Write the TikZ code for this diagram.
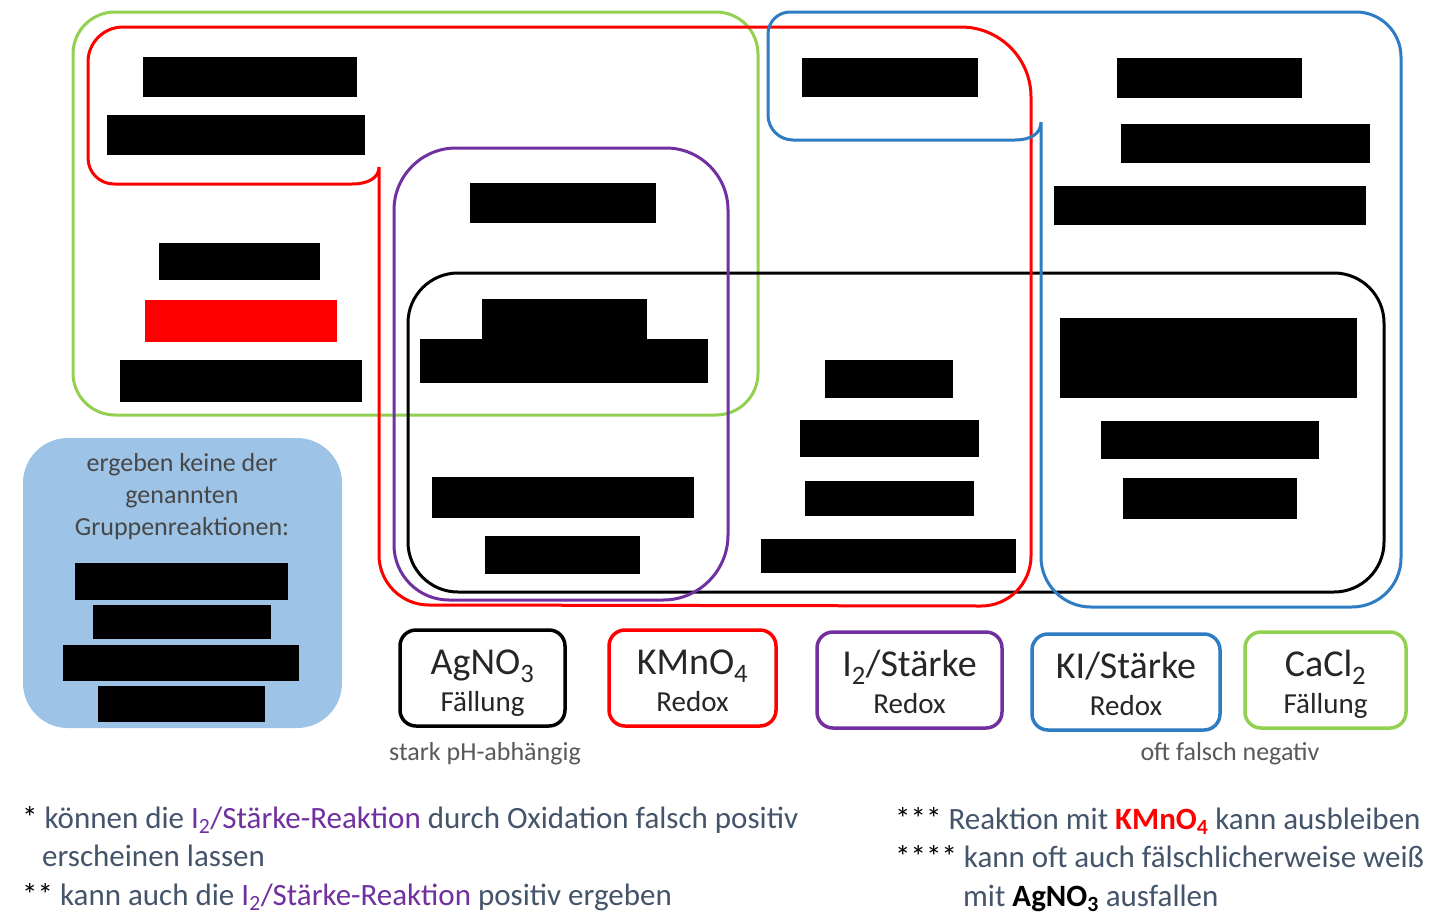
\documentclass[tikz,border=0pt]{standalone}
\usepackage{fontspec}
\setmainfont{Carlito}
\definecolor{cgreen}{HTML}{92D050}
\definecolor{cred}{HTML}{FF0000}
\definecolor{cpurp}{HTML}{7030A0}
\definecolor{cblue}{HTML}{2E7CC4}
\definecolor{clight}{HTML}{9DC3E6}
\definecolor{cnote}{HTML}{44546A}
\definecolor{cdark}{HTML}{262626}
\definecolor{cgray}{HTML}{595959}
\tikzset{
  redact/.style={fill=black},
  outl/.style={line width=3pt},
  legbox/.style={draw, line width=3.5pt, rounded corners=16pt, minimum width=#1, minimum height=96pt, inner sep=0pt},
  legtitle/.style={anchor=base, inner sep=0pt, text=cdark, font=\fontsize{38}{46}\selectfont},
  legsub/.style={anchor=base, inner sep=0pt, text=cdark, font=\fontsize{29}{35}\selectfont},
  smallnote/.style={anchor=base, inner sep=0pt, text=cgray, font=\fontsize{26}{32}\selectfont},
  fn/.style={anchor=base west, inner sep=0pt, text=cnote, font=\fontsize{31}{38}\selectfont},
}
\begin{document}
\begin{tikzpicture}[x=1pt,y=-1pt]
\useasboundingbox (0,0) rectangle (1440,921);
\fill[white] (0,0) rectangle (1440,921);

% light blue box
\fill[clight, rounded corners=45pt] (23,438) rectangle (342,728);
\node[smallnote, text=cdark!85] (lb1) at (182,471) {ergeben keine der};
\node[smallnote, text=cdark!85] (lb2) at (182,503) {genannten};
\node[smallnote, text=cdark!85] (lb3) at (182,535) {Gruppenreaktionen:};

% redactions
\fill[redact] (143,57) rectangle (357,97);
\fill[redact] (107,115) rectangle (365,155);
\fill[redact] (159,243) rectangle (320,280);
\fill[cred] (145,300) rectangle (337,342);
\fill[redact] (120,360) rectangle (362,402);
\fill[redact] (470,183) rectangle (656,223);
\fill[redact] (482,299) rectangle (647,341);
\fill[redact] (420,339) rectangle (708,383);
\fill[redact] (432,477) rectangle (694,518);
\fill[redact] (485,536) rectangle (640,574);
\fill[redact] (802,58) rectangle (978,97);
\fill[redact] (825,360) rectangle (953,398);
\fill[redact] (800,420) rectangle (979,457);
\fill[redact] (805,481) rectangle (974,516);
\fill[redact] (761,539) rectangle (1016,573);
\fill[redact] (1117,58) rectangle (1302,98);
\fill[redact] (1121,124) rectangle (1370,163);
\fill[redact] (1054,186) rectangle (1366,225);
\fill[redact] (1060,318) rectangle (1357,398);
\fill[redact] (1101,421) rectangle (1319,459);
\fill[redact] (1123,478) rectangle (1297,519);
\fill[redact] (75,563) rectangle (288,600);
\fill[redact] (93,605) rectangle (271,639);
\fill[redact] (63,645) rectangle (299,681);
\fill[redact] (98,686) rectangle (265,722);

% green group
\draw[outl, cgreen, rounded corners=42pt] (73,12) rectangle (758,415);
% black group
\draw[outl, black, rounded corners=50pt] (408,273) rectangle (1384,592);
% purple group
\draw[outl, cpurp] (394,210) arc[start angle=180, end angle=270, radius=62]
  -- (666,148) arc[start angle=270, end angle=360, radius=62]
  -- (728,535) arc[start angle=0, end angle=90, radius=65]
  -- (449,600) arc[start angle=90, end angle=180, radius=55] -- cycle;
% red group
\draw[outl, cred] (379,167) -- (379,555) arc[start angle=180, end angle=90, radius=50]
  -- (981,606) arc[start angle=90, end angle=0, radius=50]
  -- (1031,97) arc[start angle=0, end angle=-90, radius=70]
  -- (123,27) arc[start angle=270, end angle=180, radius=35]
  -- (88,158) arc[start angle=180, end angle=90, radius=26]
  -- (352,184) .. controls (368,184) and (379,178) .. (379,167);
% blue group
\draw[outl, cblue] (1041,122) -- (1041,557) arc[start angle=180, end angle=90, radius=50]
  -- (1352,607) arc[start angle=90, end angle=0, radius=49]
  -- (1401,57) arc[start angle=0, end angle=-90, radius=45]
  -- (790,12) arc[start angle=270, end angle=180, radius=22]
  -- (768,115) arc[start angle=180, end angle=90, radius=25]
  -- (1015,140) .. controls (1030,140) and (1041,134) .. (1041,122);

% legend
\node[legbox=165pt, draw=black] (ag) at (482.5,678) {};
\node[legbox=167pt, draw=cred] (km) at (692.5,678) {};
\node[legbox=185pt, draw=cpurp] (is) at (909.5,680) {};
\node[legbox=188pt, draw=cblue] (ki) at (1126,682) {};
\node[legbox=161pt, draw=cgreen] (ca) at (1325.5,680) {};

\node[legtitle] (agT) at ([yshift=4pt]ag.center) {AgNO\textsubscript{3}};
\node[legsub] (agS) at ([yshift=-33pt]ag.center) {Fällung};
\node[legtitle] (kmT) at ([yshift=4pt]km.center) {KMnO\textsubscript{4}};
\node[legsub] (kmS) at ([yshift=-33pt]km.center) {Redox};
\node[legtitle] (isT) at ([yshift=4pt]is.center) {I\textsubscript{2}/Stärke};
\node[legsub] (isS) at ([yshift=-33pt]is.center) {Redox};
\node[legtitle] (kiT) at ([yshift=4pt]ki.center) {KI/Stärke};
\node[legsub] (kiS) at ([yshift=-33pt]ki.center) {Redox};
\node[legtitle] (caT) at ([yshift=4pt]ca.center) {CaCl\textsubscript{2}};
\node[legsub] (caS) at ([yshift=-33pt]ca.center) {Fällung};

\node[smallnote] (n1) at (485,760) {stark pH-abhängig};
\node[smallnote] (n2) at (1230,760) {oft falsch negativ};

% footnotes
\node[fn] (f1) at (22,828) {\textcolor{black}{*} können die \textcolor{cpurp}{I\textsubscript{2}/Stärke-Reaktion} durch Oxidation falsch positiv};
\node[fn] (f2) at (42,866) {erscheinen lassen};
\node[fn] (f3) at (22,905) {\textcolor{black}{**} kann auch die \textcolor{cpurp}{I\textsubscript{2}/Stärke-Reaktion} positiv ergeben};
\node[fn] (f4) at (895,829) {\textcolor{black}{***} Reaktion mit \textcolor{cred}{\textbf{KMnO\textsubscript{4}}} kann ausbleiben};
\node[fn] (f5) at (895,867) {\textcolor{black}{****} kann oft auch fälschlicherweise weiß};
\node[fn] (f6) at (963,906) {mit \textcolor{black}{\textbf{AgNO\textsubscript{3}}} ausfallen};
\end{tikzpicture}
\end{document}
